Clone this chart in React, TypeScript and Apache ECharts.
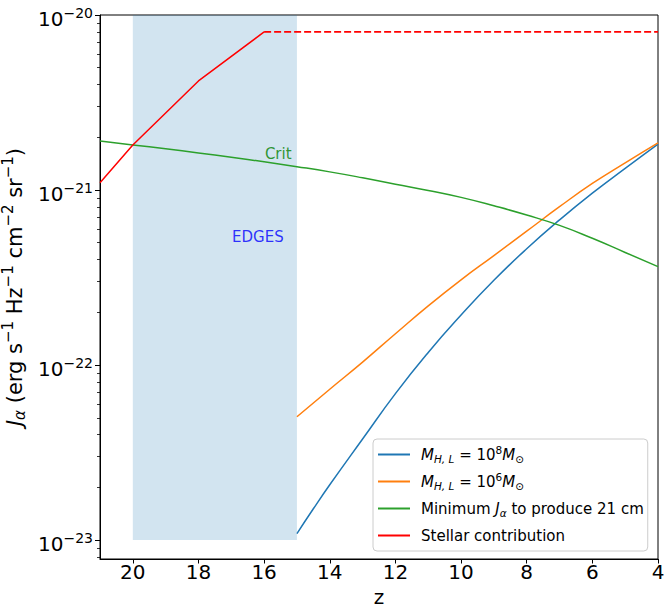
import React, { useEffect, useRef } from "react";
import * as echarts from "echarts";

// ---- data ----
const zBlue = [15, 14.5, 14, 13, 12, 11, 10, 9, 8, 7, 6, 5, 4];
const jBlue = [1.09e-23, 1.51e-23, 2.07e-23, 3.78e-23, 6.87e-23, 1.18e-22, 1.93e-22, 3.05e-22, 4.62e-22, 6.75e-22, 9.6e-22, 1.33e-21, 1.83e-21];

const zOrange = [15, 14, 13, 12, 11, 10, 9, 8, 7, 6, 5, 4];
const jOrange = [5.07e-23, 7.28e-23, 1.04e-22, 1.51e-22, 2.18e-22, 3.07e-22, 4.22e-22, 5.82e-22, 8.03e-22, 1.09e-21, 1.43e-21, 1.86e-21];

const zCrit = [21, 20, 19, 18, 17, 16, 15, 14, 13, 12, 11, 10, 9, 8, 7, 6, 5, 4];
const jCrit = [1.905e-21, 1.81e-21, 1.72e-21, 1.63e-21, 1.54e-21, 1.45e-21, 1.36e-21, 1.27e-21, 1.175e-21, 1.08e-21, 9.95e-22, 9.08e-22, 8.13e-22, 7.2e-22, 6.28e-22, 5.3e-22, 4.4e-22, 3.65e-22];

const zStellar = [21, 20, 18, 16];
const jStellar = [1.1e-21, 1.81e-21, 4.2e-21, 8.0e-21];
const zStellarFlat = [16, 4];
const jStellarFlat = [8.0e-21, 8.0e-21];

const edgesZ = [20, 15];
const edgesJ = [1e-23, 1e-20];

const critLabelAt = [15.57, 1.6e-21];
const edgesLabelAt = [16.19, 5.42e-22];

const xTicks = [4, 6, 8, 10, 12, 14, 16, 18, 20];
const yMajorTicks = [1e-23, 1e-22, 1e-21, 1e-20];
const yMinorTicks = [
  8e-24, 9e-24,
  2e-23, 3e-23, 4e-23, 5e-23, 6e-23, 7e-23, 8e-23, 9e-23,
  2e-22, 3e-22, 4e-22, 5e-22, 6e-22, 7e-22, 8e-22, 9e-22,
  2e-21, 3e-21, 4e-21, 5e-21, 6e-21, 7e-21, 8e-21, 9e-21,
];
const yMin = 7.8e-24;
const yMax = 1e-20;
const xMin = 4;
const xMax = 21;

const names = {
  blue: "M_HL_1e8",
  orange: "M_HL_1e6",
  crit: "Minimum J to produce 21 cm",
  stellar: "Stellar contribution",
};

const FONT = "DejaVu Sans";

const pairs = (xs: number[], ys: number[]) => xs.map((x, i) => [x, ys[i]]);

export default function App() {
  const ref = useRef<HTMLDivElement>(null);
  useEffect(() => {
    if (!ref.current) return;
    const chart = echarts.init(ref.current, null, { renderer: "svg" });

    const legendRich = {
      g: { width: 6, fontSize: 15, lineHeight: 15, padding: [3, 0, 3, 0] },
      n: { fontFamily: FONT, fontSize: 15, lineHeight: 15, padding: [3, 0, 3, 0], color: "#000" },
      i: { fontFamily: FONT, fontSize: 15, lineHeight: 15, padding: [3, 0, 3, 0], fontStyle: "italic", color: "#000" },
      sb: { fontFamily: FONT, fontSize: 10.5, lineHeight: 11, padding: [9, 0, 1, 0], fontStyle: "italic", color: "#000" },
      sbn: { fontFamily: FONT, fontSize: 10.5, lineHeight: 11, padding: [9, 0, 1, 0], color: "#000" },
      sp: { fontFamily: FONT, fontSize: 10.5, lineHeight: 11, padding: [0, 0, 10, 0], color: "#000" },
    };
    const legendText: Record<string, string> = {
      [names.blue]: "{g| }{i|M}{sb|H, L}{n| = 10}{sp|8}{i|M}{sbn|⊙}",
      [names.orange]: "{g| }{i|M}{sb|H, L}{n| = 10}{sp|6}{i|M}{sbn|⊙}",
      [names.crit]: "{g| }{n|Minimum }{i|J}{sb|α}{n| to produce 21 cm}",
      [names.stellar]: "{g| }{n|Stellar contribution}",
    };

    const lineSeries = (name: string, data: number[][], color: string, extra: any = {}) => ({
      type: "line",
      name,
      data,
      color,
      itemStyle: { color },
      lineStyle: { color, width: 1.5, ...(extra.lineStyle || {}) },
      showSymbol: false,
      symbol: "none",
      smooth: extra.smooth ?? false,
      z: 3,
      silent: true,
    });

    chart.setOption({
      animation: false,
      textStyle: { fontFamily: FONT },
      grid: { left: 100, right: 13, top: 15, bottom: 56, show: true, borderColor: "#000", borderWidth: 1, backgroundColor: "transparent", outerBoundsMode: "none" },
      xAxis: {
        type: "value",
        inverse: true,
        min: xMin,
        max: xMax,
        name: "z",
        nameLocation: "middle",
        nameGap: 25,
        nameTextStyle: { fontFamily: FONT, fontSize: 20, color: "#000" },
        axisLine: { show: true, lineStyle: { color: "#000", width: 1 } },
        axisTick: { show: true, length: 4.5, customValues: xTicks, lineStyle: { color: "#000", width: 1 } },
        axisLabel: { show: true, customValues: xTicks, margin: 3, fontFamily: FONT, fontSize: 20, color: "#000" },
        splitLine: { show: false },
      },
      yAxis: [
        {
          type: "log",
          logBase: 10,
          min: yMin,
          max: yMax,
          position: "left",
          name: "{i|J}{sub|α}{n| (erg s}{sup|−1}{n| Hz}{sup|−1}{n| cm}{sup|−2}{n| sr}{sup|−1}{n|)}",
          nameLocation: "middle",
          nameGap: 59,
          nameTextStyle: {
            fontFamily: FONT,
            fontSize: 21,
            color: "#000",
            rich: {
              n: { fontFamily: FONT, fontSize: 21, lineHeight: 21, padding: [4, 0, 2, 0], color: "#000" },
              i: { fontFamily: FONT, fontSize: 21, lineHeight: 21, padding: [4, 0, 2, 0], fontStyle: "italic", color: "#000" },
              sub: { fontFamily: FONT, fontSize: 15, lineHeight: 15, padding: [12, 0, 0, 0], fontStyle: "italic", color: "#000" },
              sup: { fontFamily: FONT, fontSize: 15, lineHeight: 15, padding: [0, 0, 12, 0], color: "#000" },
            },
          },
          axisLine: { show: true, lineStyle: { color: "#000", width: 1 } },
          axisTick: { show: true, length: 5, customValues: yMajorTicks, lineStyle: { color: "#000", width: 1 } },
          axisLabel: {
            show: true,
            customValues: yMajorTicks,
            margin: 7,
            formatter: (v: number) => `{b|10}{s|−${-Math.round(Math.log10(v))}}`,
            rich: {
              b: { fontFamily: FONT, fontSize: 20, lineHeight: 20, padding: [7, 0, 0, 0], color: "#000" },
              s: { fontFamily: FONT, fontSize: 14, lineHeight: 14, padding: [4, 0, 9, 0], color: "#000" },
            },
          },
          splitLine: { show: false },
          minorTick: { show: false },
        },
        {
          type: "log",
          logBase: 10,
          min: yMin,
          max: yMax,
          position: "left",
          axisLine: { show: false },
          axisTick: { show: true, length: 3, customValues: yMinorTicks, lineStyle: { color: "#000", width: 0.8 } },
          axisLabel: { show: false },
          splitLine: { show: false },
        },
      ],
      legend: {
        show: true,
        orient: "vertical",
        left: 373,
        top: 439,
        padding: [5, 4, 5, 5],
        itemGap: 6,
        itemWidth: 32,
        itemHeight: 2,
        icon: "rect",
        selectedMode: false,
        backgroundColor: "rgba(255,255,255,0.8)",
        borderColor: "#cccccc",
        borderWidth: 1,
        borderRadius: 4,
        data: [names.blue, names.orange, names.crit, names.stellar],
        formatter: (name: string) => legendText[name] || name,
        textStyle: { fontFamily: FONT, fontSize: 15, color: "#000", rich: legendRich },
      },
      series: [
        {
          type: "line",
          name: "edges-band",
          data: [],
          silent: true,
          z: 1,
          markArea: {
            silent: true,
            itemStyle: { color: "rgba(31,119,180,0.2)", borderWidth: 0 },
            label: { show: false },
            data: [[{ coord: [edgesZ[0], edgesJ[0]] }, { coord: [edgesZ[1], edgesJ[1]] }]],
          },
        },
        lineSeries(names.blue, pairs(zBlue, jBlue), "#1f77b4", { smooth: 0.5 }),
        lineSeries(names.orange, pairs(zOrange, jOrange), "#ff7f0e", { smooth: 0.5 }),
        lineSeries(names.crit, pairs(zCrit, jCrit), "#2ca02c", { smooth: 0.5 }),
        lineSeries(names.stellar, pairs(zStellar, jStellar), "#ff0000"),
        lineSeries("stellar-flat", pairs(zStellarFlat, jStellarFlat), "#ff0000", { lineStyle: { type: [7, 3], width: 1.7 } }),
        {
          type: "scatter",
          name: "text-labels",
          silent: true,
          symbolSize: 1,
          itemStyle: { color: "transparent" },
          z: 4,
          data: [
            { value: critLabelAt, label: { formatter: "Crit", color: "#008000" } },
            { value: edgesLabelAt, label: { formatter: "EDGES", color: "#0000ff" } },
          ],
          label: { show: true, position: "inside", fontFamily: FONT, fontSize: 15 },
        },
      ],
    });
    return () => chart.dispose();
  }, []);
  return <div ref={ref} style={{ position: "absolute", left: 0, top: 0, width: 671, height: 615 }} />;
}
